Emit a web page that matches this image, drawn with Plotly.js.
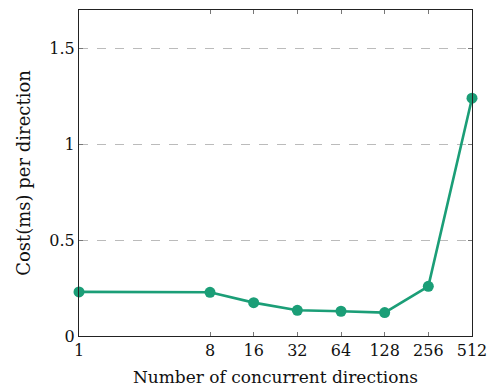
<!DOCTYPE html>
<html><head><meta charset="utf-8">
<script src="https://cdn.plot.ly/plotly-3.0.1.min.js"></script>
<style>html,body{margin:0;padding:0;background:#fff}#chart{width:488px;height:388px}</style>
</head><body><div id="chart"></div>
<script>
const directions = [1, 8, 16, 32, 64, 128, 256, 512];
const costMs = [0.23, 0.228, 0.174, 0.134, 0.129, 0.122, 0.259, 1.24];
const xTickLabels = ['1', '8', '16', '32', '64', '128', '256', '512'];
const yTickVals = [0, 0.5, 1, 1.5];
const yTickLabels = ['0', '0.5', '1', '1.5'];

const tickFont = {family: '"DejaVu Serif", serif', size: 16, color: '#111'};
const xTitleFont = {family: '"DejaVu Serif", serif', size: 17, color: '#111'};
const yTitleFont = {family: '"DejaVu Serif", serif', size: 18, color: '#111'};
const trace = {
  x: directions, y: costMs, type: 'scatter', mode: 'lines+markers',
  line: {color: '#1b9e77', width: 2.6},
  marker: {color: '#1b9e77', size: 11},
  cliponaxis: false, hoverinfo: 'none'
};
const layout = {
  width: 488, height: 388,
  margin: {l: 79, r: 16, t: 10, b: 52},
  paper_bgcolor: '#fff', plot_bgcolor: '#fff',
  font: tickFont, showlegend: false,
  xaxis: {
    type: 'log', range: [0, Math.log10(512)],
    tickvals: directions, ticktext: xTickLabels,
    ticks: 'inside', ticklen: 4, tickcolor: '#777', tickwidth: 1,
    showline: true, linecolor: '#222', linewidth: 1, mirror: 'ticks',
    showgrid: false, zeroline: false,
    tickfont: tickFont, ticklabeloverflow: 'allow',
    title: {text: 'Number of concurrent directions', font: xTitleFont, standoff: 11}
  },
  yaxis: {
    range: [0, 1.7],
    tickvals: yTickVals, ticktext: yTickLabels,
    ticks: 'inside', ticklen: 4, tickcolor: '#777', tickwidth: 1,
    showline: true, linecolor: '#222', linewidth: 1, mirror: 'ticks',
    showgrid: true, gridcolor: '#bbb', griddash: 'dash', gridwidth: 1,
    zeroline: false,
    tickfont: tickFont,
    title: {text: 'Cost(ms) per direction', font: yTitleFont, standoff: 14}
  }
};
Plotly.newPlot('chart', [trace], layout, {displayModeBar: false, staticPlot: true});
</script></body></html>
